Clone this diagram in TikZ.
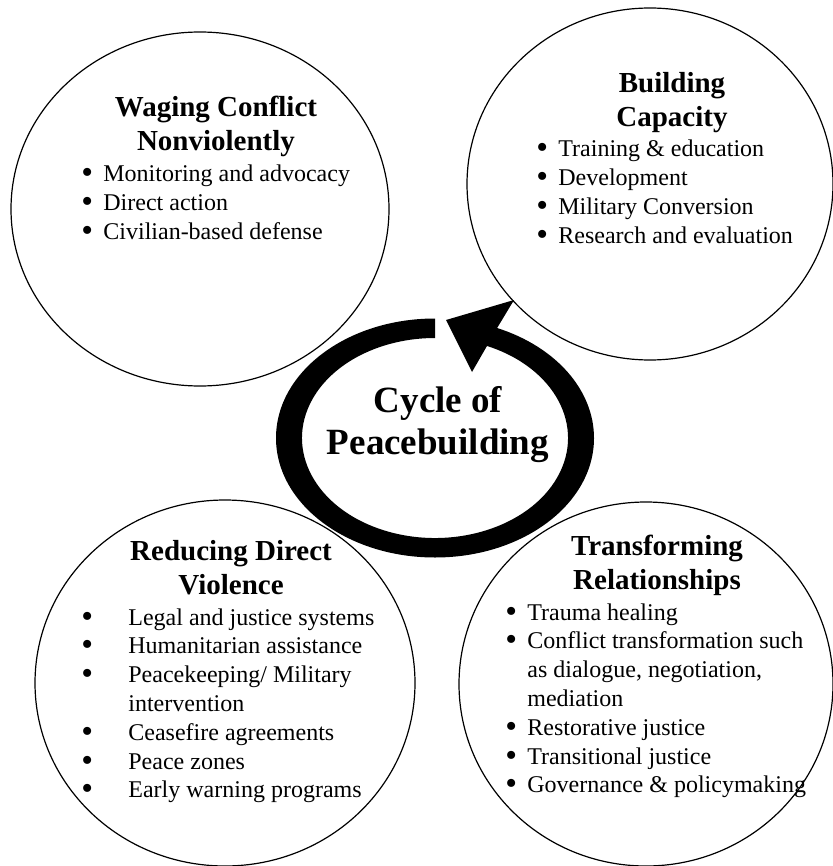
\documentclass[tikz,border=0pt]{standalone}
\usepackage{fontspec}
\setmainfont{Liberation Serif}
\usetikzlibrary{positioning, shapes.geometric}

\tikzset{
  zone/.style={ellipse, draw, line width=0.6pt, inner sep=0pt},
  ttl/.style={anchor=base, inner sep=0pt, font=\bfseries\fontsize{14.5}{17}\selectfont},
  lst/.style={anchor=base west, inner sep=0pt, font=\fontsize{12}{14.4}\selectfont},
}
\newcommand{\blt}[1][11pt]{\makebox[#1][l]{\smash{\raisebox{-1pt}{\scalebox{1.4}{\textbullet}}}}}

\begin{document}
\begin{tikzpicture}[x=0.5pt, y=-0.5pt]
        \useasboundingbox (0,0) rectangle (833,866);
        \node[zone, minimum width=189pt, minimum height=177pt] (wage) at (200,209) {};
        \node[zone, minimum width=183pt, minimum height=176pt] (build) at (650,184) {};
        \node[zone, minimum width=190pt, minimum height=183pt] (reduce) at (225,683) {};
        \node[zone, minimum width=187pt, minimum height=182pt] (trans) at (646,684) {};
        \coordinate (ring) at (435,438);
        \coordinate (hdout) at (514,300);
        \coordinate (hdtip) at (446,320);
        \coordinate (hdin) at (472,372);
        \fill ([shift={(90:79.5pt and 59.75pt)}]ring) arc[start angle=90, end angle=427, x radius=79.5pt, y radius=59.75pt]
        -- (hdout) -- (hdtip) -- (hdin)
        -- ([shift={(427:66.5pt and 50pt)}]ring) arc[start angle=427, end angle=90, x radius=66.5pt, y radius=50pt] -- cycle;
        \node[anchor=base, inner sep=0pt, font=\bfseries\fontsize{18.5}{21}\selectfont] (core) at (438,412)
        {\begin{tabular}[t]{@{}c@{}}Cycle of\\Peacebuilding\end{tabular}};
        \node[ttl] (wagettl) at (216,117) {\begin{tabular}[t]{@{}c@{}}Waging Conflict\\Nonviolently\end{tabular}};
        \node[lst] (wagelst) at (81,182) {\begin{tabular}[t]{@{}l@{}l@{}}
        \blt & Monitoring and advocacy\\ \blt & Direct action\\ \blt & Civilian-based defense\end{tabular}};
        \node[ttl] (buildttl) at (672,93) {\begin{tabular}[t]{@{}c@{}}Building\\Capacity\end{tabular}};
        \node[lst] (buildlst) at (536,157) {\begin{tabular}[t]{@{}l@{}l@{}}
        \blt & Training \& education\\ \blt & Development\\ \blt & Military Conversion\\ \blt & Research and evaluation\end{tabular}};
        \node[ttl] (reducettl) at (231,560) {\begin{tabular}[t]{@{}c@{}}Reducing Direct\\Violence\end{tabular}};
        \node[lst] (reducelst) at (81,625) {\begin{tabular}[t]{@{}l@{}l@{}}
        \blt[23.5pt] & Legal and justice systems\\ \blt[23.5pt] & Humanitarian assistance\\
        \blt[23.5pt] & Peacekeeping/ Military\\ & intervention\\ \blt[23.5pt] & Ceasefire agreements\\
        \blt[23.5pt] & Peace zones\\ \blt[23.5pt] & Early warning programs\end{tabular}};
        \node[ttl] (transttl) at (657,555) {\begin{tabular}[t]{@{}c@{}}Transforming\\Relationships\end{tabular}};
        \node[lst] (translst) at (505,620) {\begin{tabular}[t]{@{}l@{}l@{}}
        \blt & Trauma healing\\ \blt & Conflict transformation such\\ & as dialogue, negotiation,\\ & mediation\\
        \blt & Restorative justice\\ \blt & Transitional justice\\ \blt & Governance \& policymaking\end{tabular}};
\end{tikzpicture}
\end{document}
